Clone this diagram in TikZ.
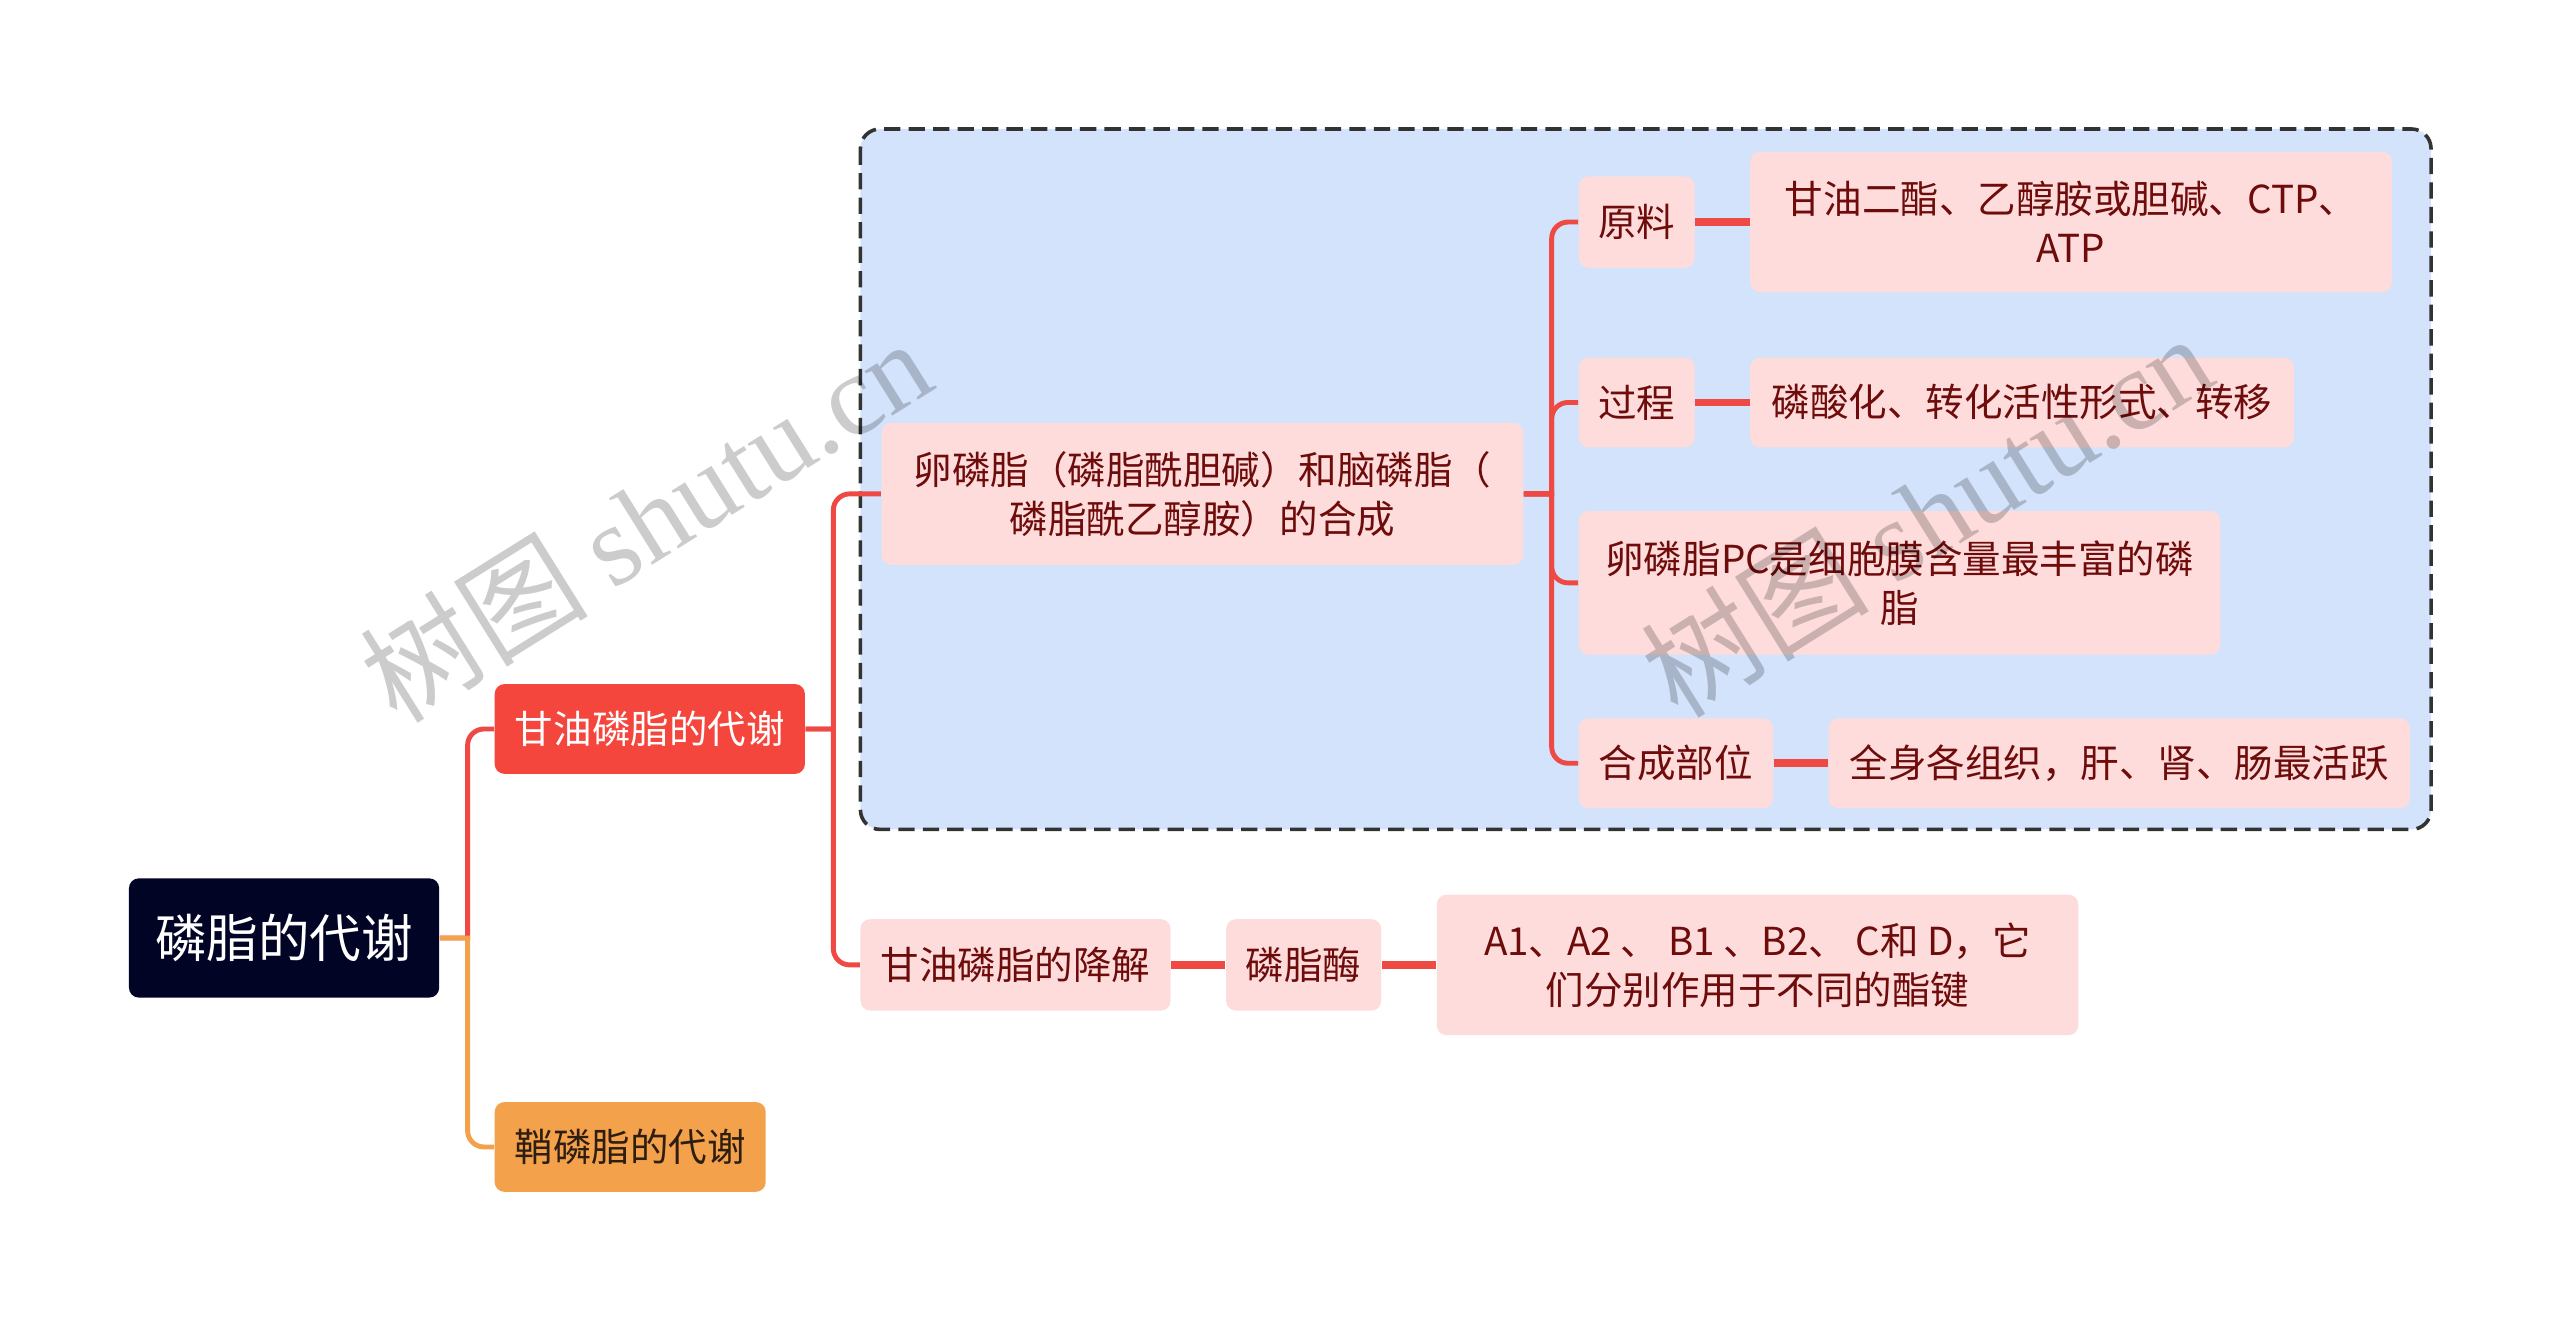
\documentclass[tikz,border=0pt]{standalone}
\usepackage{fontspec}
\usepackage{xcolor}
\newfontfamily\cjk{Noto Sans CJK SC}
\newfontfamily\wmserif{Liberation Serif}

\definecolor{rootblue}{HTML}{020426}
\definecolor{mainred}{HTML}{F5463D}
\definecolor{mainorange}{HTML}{F4A14B}
\definecolor{orangetext}{HTML}{2E1E12}
\definecolor{leafpink}{HTML}{FDDCDB}
\definecolor{leaftext}{HTML}{6E0B0B}
\definecolor{groupblue}{HTML}{D3E3FC}
\definecolor{linkred}{HTML}{EE4A43}

\begin{document}
\begin{tikzpicture}[x=0.5pt,y=-0.5pt,font=\cjk\fontsize{11.8}{15}\selectfont,
    main/.style={rectangle, rounded corners=3pt, text=white, align=center, minimum height=27.5pt, inner sep=0pt},
    leaf/.style={rectangle, rounded corners=3pt, fill=leafpink, text=leaftext, align=center, minimum height=27.5pt, inner sep=0pt},
    group/.style={draw=black!80, fill=groupblue, dashed, dash pattern=on 5pt off 2.5pt, line width=1.1pt, rounded corners=6pt},
    fork/.style={to path={(\tikztostart.east) -- ++(17,0) [rounded corners=5pt] |- (\tikztotarget.west)}},
    link/.style={color=linkred, line width=1.5pt},
    watermark/.style={rotate=32, text=black, opacity=0.2, font=\cjk\fontsize{35}{40}\selectfont},
    ]
                        \useasboundingbox (0,0) rectangle (1568,809);
                        \draw [group] (527,79) rectangle (1489,508);

                        \node [main, fill=rootblue, minimum width=95pt, minimum height=36.5pt, font=\cjk\fontsize{15.8}{19}\selectfont](root) at (174,574.5) {磷脂的代谢};
                        \node [main, fill=mainred, minimum width=95pt](glyc) at (398,446.5) {甘油磷脂的代谢};
                        \node [main, fill=mainorange, text=orangetext, minimum width=83pt](sphingo) at (386,702.5) {鞘磷脂的代谢};

                        \node [leaf, minimum width=196.5pt, minimum height=43.5pt](synth) at (736.5,302.5) {卵磷脂（磷脂酰胆碱）和脑磷脂（\\磷脂酰乙醇胺）的合成};
                        \node [leaf, minimum width=35.5pt, minimum height=28pt](raw) at (1002.5,136) {原料};
                        \node [leaf, minimum width=196.5pt, minimum height=43pt](rawtext) at (1268.5,136) {甘油二酯、乙醇胺或胆碱、CTP、\\ATP};
                        \node [leaf, minimum width=35.5pt](proc) at (1002.5,246.5) {过程};
                        \node [leaf, minimum width=166.5pt](proctext) at (1238.5,246.5) {磷酸化、转化活性形式、转移};
                        \node [leaf, minimum width=196.5pt, minimum height=44pt](pc) at (1163.5,357) {卵磷脂PC是细胞膜含量最丰富的磷\\脂};
                        \node [leaf, minimum width=59.5pt](site) at (1026.5,467.5) {合成部位};
                        \node [leaf, minimum width=178pt](sitetext) at (1298,467.5) {全身各组织，肝、肾、肠最活跃};

                        \node [leaf, minimum width=95pt, minimum height=28pt](degr) at (622,591) {甘油磷脂的降解};
                        \node [leaf, minimum width=47.5pt, minimum height=28pt](enz) at (798.5,591) {磷脂酶};
                        \node [leaf, minimum width=196.5pt, minimum height=43pt](enztext) at (1076.5,591) {A1、A2 、 B1 、B2、 C和 D，它\\们分别作用于不同的酯键};

                        \path [link]
                            (root) edge[fork] (glyc)
                            (glyc) edge[fork] (synth)
                            (glyc) edge[fork] (degr)
                            (synth) edge[fork] (raw)
                            (synth) edge[fork] (proc)
                            (synth) edge[fork] (pc)
                            (synth) edge[fork] (site)
                        ;
                        \path [link, color=mainorange]
                            (root) edge[fork] (sphingo)
                        ;
                        \path [link, line width=2.4pt]
                            (raw) edge (rawtext)
                            (proc) edge (proctext)
                            (site) edge (sitetext)
                            (degr) edge (enz)
                            (enz) edge (enztext)
                        ;

                        \node [watermark](wm1) at (395,318) {树图 {\wmserif shutu.cn}};
                        \node [watermark](wm2) at (1180,315) {树图 {\wmserif shutu.cn}};
                    \end{tikzpicture}
\end{document}
